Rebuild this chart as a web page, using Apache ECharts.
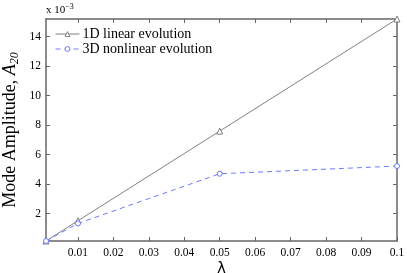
<!DOCTYPE html>
<html><head><meta charset="utf-8">
<script src="https://cdn.jsdelivr.net/npm/echarts@6/dist/echarts.min.js"></script>
<style>html,body{margin:0;padding:0;background:#fff}#c{width:407px;height:273px}</style>
</head><body><div id="c"></div>
<script>
const lambdaValues = [0.001, 0.01, 0.05, 0.1];
const linear1D = [0.00015, 0.00152, 0.0076, 0.0152];
const nonlinear3D = [0.00015, 0.00134, 0.00471, 0.00523];
const xTicks = [0.01, 0.02, 0.03, 0.04, 0.05, 0.06, 0.07, 0.08, 0.09, 0.1];
const yTicks = [0.002, 0.004, 0.006, 0.008, 0.010, 0.012, 0.014];
const seriesNames = ['1D linear evolution', '3D nonlinear evolution'];

const font = 'Liberation Serif';
const axisColor = '#666';
const chart = echarts.init(document.getElementById('c'));
const xMin = 0.001, xMax = 0.1, yMin = 0.00015, yMax = 0.0152;
function xAx(pos, show) {
  return {
    type: 'value', position: pos, min: xMin, max: xMax,
    axisLine: {show: true, onZero: false, lineStyle: {color: axisColor, width: 1.5}},
    axisTick: {show: true, inside: true, length: 4, customValues: xTicks, lineStyle: {color: axisColor}},
    axisLabel: {show: show, customValues: xTicks, color: '#000', fontFamily: font, fontSize: 11.5, margin: 6,
      formatter: v => String(+v.toFixed(3))},
    splitLine: {show: false}
  };
}
function yAx(pos, show) {
  return {
    type: 'value', position: pos, min: yMin, max: yMax,
    axisLine: {show: true, onZero: false, lineStyle: {color: axisColor, width: 1.5}},
    axisTick: {show: true, inside: true, length: 4, customValues: yTicks, lineStyle: {color: axisColor}},
    axisLabel: {show: show, customValues: yTicks, color: '#000', fontFamily: font, fontSize: 11.5, margin: 5,
      formatter: v => String(Math.round(v * 1000))},
    splitLine: {show: false}
  };
}
const xa = xAx('bottom', true);
xa.name = 'λ'; xa.nameLocation = 'middle'; xa.nameGap = 21; xa.nameMoveOverlap = false;
xa.nameTextStyle = {fontFamily: 'DejaVu Sans', fontSize: 15, color: '#000'};
const ya = yAx('left', true);
ya.name = 'Mode Amplitude, {i|A}{s|20}'; ya.nameLocation = 'middle'; ya.nameGap = 25; ya.nameMoveOverlap = false;
ya.nameTextStyle = {fontFamily: font, fontSize: 18, color: '#000',
  rich: {i: {fontFamily: font, fontSize: 18, fontStyle: 'italic', color: '#000'},
         s: {fontFamily: font, fontSize: 12, fontStyle: 'italic', color: '#000', verticalAlign: 'bottom', padding: [10,0,0,0]}}};
chart.setOption({
  animation: false,
  backgroundColor: '#fff',
  grid: {left: 46, right: 10, top: 19, bottom: 32, outerBoundsMode: 'none', containLabel: false},
  xAxis: [xa, xAx('top', false)],
  yAxis: [ya, yAx('right', false)],
  legend: {
    left: 50, top: 22, orient: 'vertical', itemGap: 1, itemWidth: 24, itemHeight: 6,
    lineStyle: {width: 1}, itemStyle: {borderWidth: 1},
    textStyle: {fontFamily: font, fontSize: 14, color: '#000', padding: [0,0,0,-2]},
    data: seriesNames
  },
  graphic: [{type: 'text', left: 46, top: 3,
    style: {text: 'x 10{s|−3}', fontFamily: font, fontSize: 11, fill: '#000',
      rich: {s: {fontSize: 8, fontFamily: font, verticalAlign: 'top', padding: [0,0,6,0]}}}}],
  series: [
    {name: seriesNames[0], type: 'line', data: lambdaValues.map((x, i) => [x, linear1D[i]]),
     symbol: 'triangle', symbolSize: 6, showSymbol: true,
     lineStyle: {color: '#808080', width: 1}, itemStyle: {color: '#fff', borderColor: '#808080', borderWidth: 1}},
    {name: seriesNames[1], type: 'line', data: lambdaValues.map((x, i) => [x, nonlinear3D[i]]),
     symbol: 'circle', symbolSize: 5, showSymbol: true,
     lineStyle: {color: '#6b7bff', width: 1, type: [5, 4]}, itemStyle: {color: '#fff', borderColor: '#6b7bff', borderWidth: 1}}
  ]
});
</script></body></html>
